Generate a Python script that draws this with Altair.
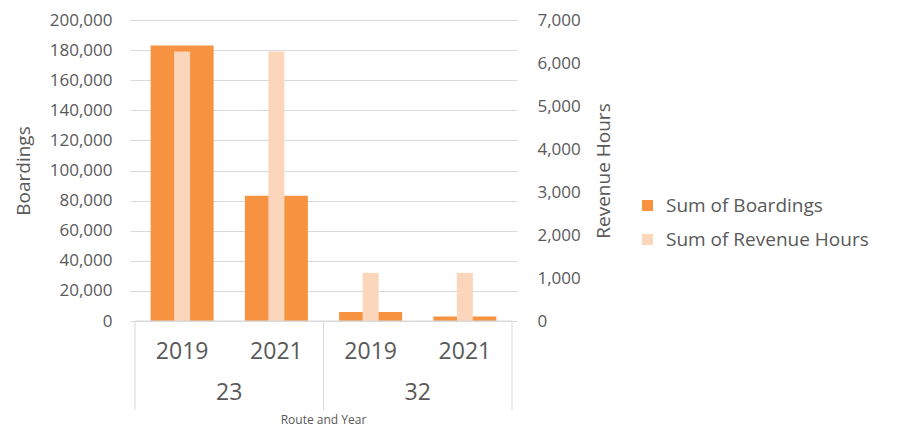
import altair as alt
import pandas as pd

routes = ["23", "23", "32", "32"]
years = ["2019", "2021", "2019", "2021"]
boardings = [183000, 83300, 6000, 3000]
revenue_hours = [6270, 6270, 1120, 1120]
series_names = ["Sum of Boardings", "Sum of Revenue Hours"]
series_colors = ["#F69240", "#FBD6BA"]

FONT = "Open Sans"
GREY = "#595959"
W, H = 387, 301

idx = list(range(len(years)))
df = pd.DataFrame({"i": idx, "route": routes, "year": years,
                   "boardings": boardings, "hours": revenue_hours})
df["s1"] = series_names[0]
df["s2"] = series_names[1]

# route groups (centre and boundaries)
grp = df.groupby("route", sort=False)["i"].agg(["min", "max"]).reset_index()
grp["mid"] = (grp["min"] + grp["max"]) / 2
bounds = sorted(set((grp["min"] - 0.5).tolist() + (grp["max"] + 0.5).tolist()))
bdf = pd.DataFrame({"b": bounds})
lo, hi = min(bounds), max(bounds)
domain_df = pd.DataFrame({"a": [lo], "b": [hi]})

xs = alt.Scale(domain=[lo, hi], nice=False, zero=False)
cscale = alt.Scale(domain=series_names, range=series_colors)

base = alt.Chart(df)
b1 = base.mark_bar(size=63).encode(
    x=alt.X("i:Q", scale=xs, axis=None),
    y=alt.Y("boardings:Q", scale=alt.Scale(domain=[0, 200000], nice=False),
            axis=alt.Axis(title="Boardings", values=list(range(0, 200001, 20000)), format=",.0f",
                          grid=True, gridColor="#D9D9D9", domain=False, ticks=False,
                          labelPadding=18, titlePadding=16, labelFontSize=17,
                          titleFontSize=19)),
    color=alt.Color("s1:N", scale=cscale,
                    legend=alt.Legend(title=None, orient="none", legendX=508, legendY=176,
                                      labelFont=FONT, labelFontSize=19, labelColor=GREY,
                                      labelLimit=400,
                                      symbolType="square", symbolSize=120, symbolStrokeWidth=0,
                                      rowPadding=14, labelOffset=9, padding=0)),
)
b2 = base.mark_bar(size=16).encode(
    x=alt.X("i:Q", scale=xs, axis=None),
    y=alt.Y("hours:Q", scale=alt.Scale(domain=[0, 7000], nice=False),
            axis=alt.Axis(title="Revenue Hours", orient="right", values=list(range(0, 7001, 1000)),
                          format=",.0f", grid=False, domain=False, ticks=False,
                          labelPadding=20, titleAngle=270, titleX=86, titleY=H / 2,
                          titleAlign="center", titleBaseline="middle",
                          labelFontSize=17, titleFontSize=19)),
    color=alt.Color("s2:N", scale=cscale),
)

year_txt = base.mark_text(font=FONT, fontSize=23, color=GREY, baseline="middle").encode(
    x=alt.X("i:Q", scale=xs, axis=None), y=alt.value(H + 31), text="year:N")
route_txt = alt.Chart(grp).mark_text(font=FONT, fontSize=23, color=GREY, baseline="middle").encode(
    x=alt.X("mid:Q", scale=xs, axis=None), y=alt.value(H + 72), text="route:N")
seps = alt.Chart(bdf).mark_rule(color="#D9D9D9", strokeWidth=1).encode(
    x=alt.X("b:Q", scale=xs, axis=None), y=alt.value(H), y2=alt.value(H + 89))
base_line = alt.Chart(domain_df).mark_rule(color="#D9D9D9", strokeWidth=1).encode(
    x=alt.X("a:Q", scale=xs, axis=None), x2="b:Q", y=alt.value(H))
xtitle = alt.Chart(domain_df).mark_text(font=FONT, fontSize=12, color=GREY, baseline="middle").encode(
    x=alt.value(W / 2), y=alt.value(H + 99), text=alt.value("Route and Year"))

chart = alt.layer(b1, b2, seps, base_line, year_txt, route_txt, xtitle).resolve_scale(
    y="independent"
).properties(
    width=W, height=H,
    autosize=alt.AutoSizeParams(type="none"),
    padding={"left": 122, "top": 12, "right": 370, "bottom": 106},
).configure_view(stroke=None).configure_axis(
    labelFont=FONT, titleFont=FONT, labelColor=GREY, titleColor=GREY, titleFontWeight="normal"
)

chart.save("out.html", embed_options={"renderer": "svg", "actions": False})
